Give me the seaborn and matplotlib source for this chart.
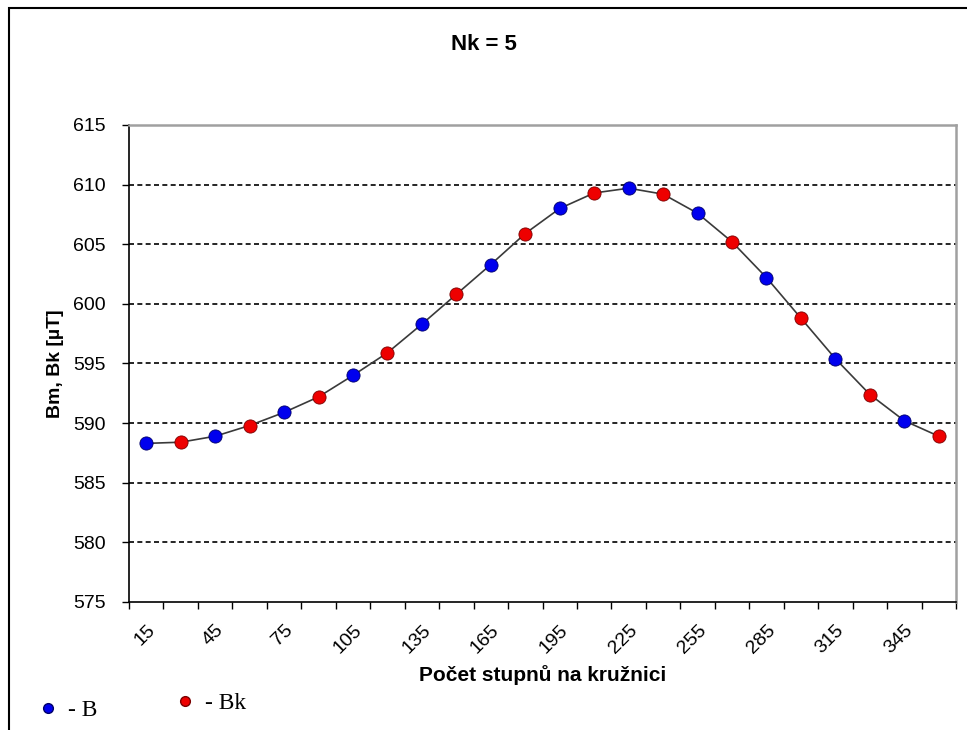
import matplotlib
matplotlib.use('Agg')
import matplotlib.pyplot as plt
from matplotlib.lines import Line2D
from matplotlib.patches import Rectangle
from matplotlib.ticker import FixedLocator
import numpy as np
import pandas as pd
import seaborn as sns

# Data
angles = [15, 30, 45, 60, 75, 90, 105, 120, 135, 150, 165, 180,
          195, 210, 225, 240, 255, 270, 285, 300, 315, 330, 345, 360]
field_values = [588.3, 588.4, 588.9, 589.8, 590.9, 592.2, 594.0, 595.9,
                598.3, 600.8, 603.3, 605.9, 608.0, 609.3, 609.7, 609.2,
                607.6, 605.2, 602.2, 598.8, 595.4, 592.4, 590.2, 588.9]
series = ['B', 'Bk'] * 12
tick_labels = [15, 45, 75, 105, 135, 165, 195, 225, 255, 285, 315, 345]
y_ticks = [575, 580, 585, 590, 595, 600, 605, 610, 615]
palette = {'B': '#0000ee', 'Bk': '#ee0000'}
edges = {'B': '#00006a', 'Bk': '#7a0000'}

df = pd.DataFrame({'angle': angles, 'value': field_values, 'series': series})

sns.set_style('white')
plt.rcParams['font.family'] = ['Liberation Sans', 'DejaVu Sans']
plt.rcParams['text.color'] = 'black'
plt.rcParams['axes.labelcolor'] = 'black'
plt.rcParams['xtick.color'] = 'black'
plt.rcParams['ytick.color'] = 'black'

fig = plt.figure(figsize=(9.67, 7.30), dpi=100)
ax = fig.add_axes([129 / 967, 1 - 602 / 730, (956 - 129) / 967, (602 - 125) / 730])

# connecting curve and coloured points
sns.lineplot(data=df, x='angle', y='value', ax=ax, color='#3a3a3a', lw=1.2,
             sort=False, zorder=2)
for name in ['B', 'Bk']:
    sub = df[df['series'] == name]
    sns.scatterplot(data=sub, x='angle', y='value', ax=ax, color=palette[name],
                    edgecolor=edges[name], linewidth=0.6, s=90, zorder=3,
                    legend=False)

ax.set_xlim(7.5, 367.5)
ax.set_ylim(575, 615)
ax.set_yticks(y_ticks)
ax.set_xticks(tick_labels)
ax.set_xticklabels([str(t) for t in tick_labels], rotation=45, ha='right',
                   va='top', rotation_mode='anchor', fontsize=14)
ax.xaxis.set_minor_locator(FixedLocator(np.arange(7.5, 368, 15)))
ax.tick_params(axis='x', which='major', length=0, pad=14)
ax.tick_params(axis='x', which='minor', length=5, width=1, color='black',
               direction='out', bottom=True)
ax.tick_params(axis='y', which='major', length=5, width=1, color='black',
               direction='out', left=True, labelsize=14, pad=12)

for lvl in [580, 585, 590, 595, 600, 605, 610]:
    ax.axhline(lvl, color='black', lw=1.2, ls=(0, (3, 2)), zorder=1)

for side in ['left', 'bottom']:
    ax.spines[side].set_color('black')
    ax.spines[side].set_linewidth(1.2)
for side in ['top', 'right']:
    ax.spines[side].set_color('#a0a0a0')
    ax.spines[side].set_linewidth(1.8)

ax.set_xlabel('Počet stupnů na kružnici', fontsize=15, fontweight='bold',
              labelpad=6)
ax.set_ylabel('Bm, Bk [µT]', fontsize=14, fontweight='bold', labelpad=6)
fig.text(0.5, 1 - 45 / 730, 'Nk = 5', ha='center', va='center',
         fontsize=16, fontweight='bold')

# separate legend entries below the chart
for name, text, xy in [('B', '- B', (24 / 967, 1 - 710 / 730)),
                       ('Bk', '- Bk', (161 / 967, 1 - 703 / 730))]:
    handle = Line2D([], [], ls='none', marker='o', markersize=7,
                    markerfacecolor=palette[name], markeredgecolor=edges[name])
    fig.legend(handles=[handle], labels=[text], loc='center left',
               bbox_to_anchor=xy, frameon=False, handlelength=1,
               handletextpad=0.35, borderpad=0,
               prop={'family': 'Liberation Serif', 'size': 17})

# outer chart border
fig.add_artist(Rectangle((9 / 967, -0.1), 1.5, 1 - 8 / 730 + 0.1,
                         transform=fig.transFigure, fill=False,
                         ec='black', lw=1.5))

fig.savefig('out.png', dpi=100)
